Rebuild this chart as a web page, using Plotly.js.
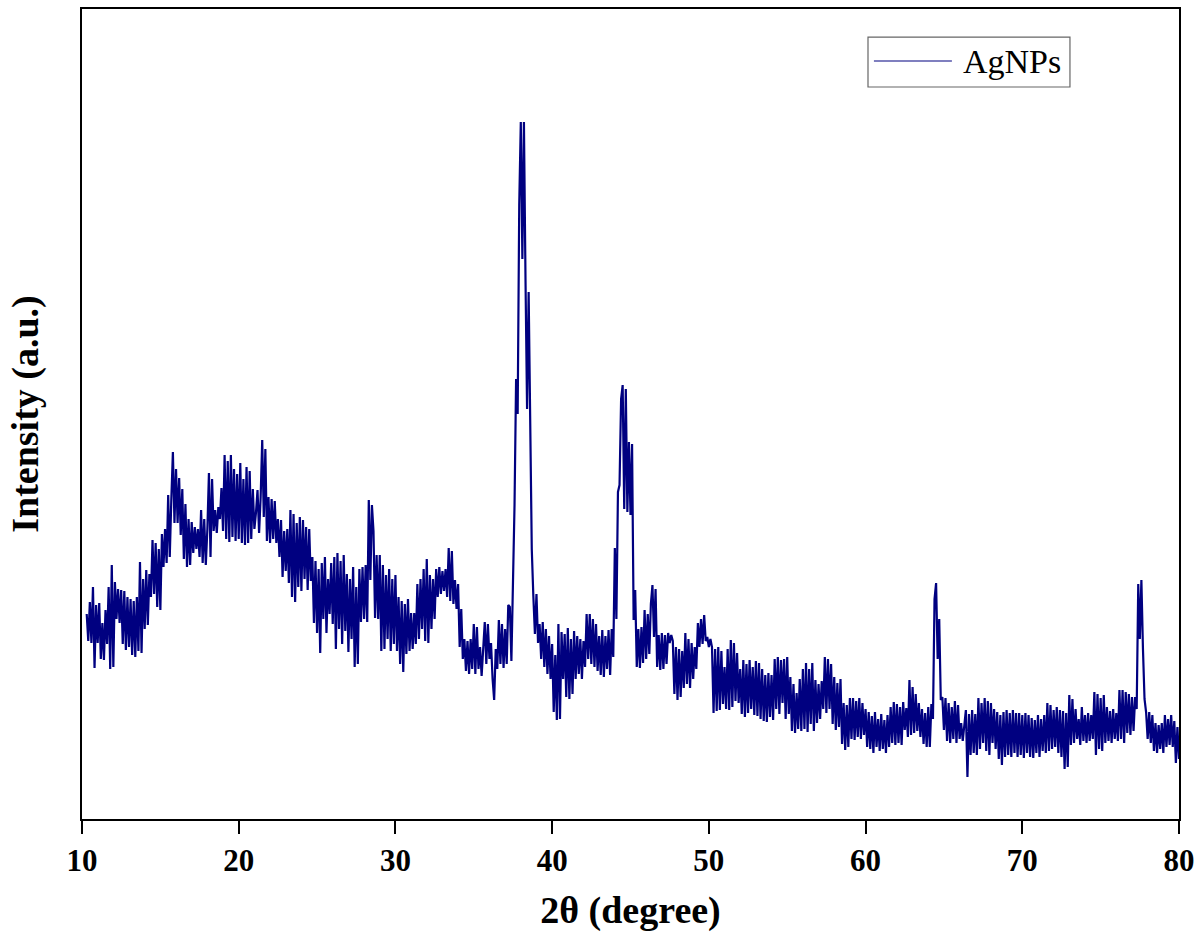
<!DOCTYPE html>
<html>
<head>
<meta charset="utf-8">
<script src="https://cdn.plot.ly/plotly-3.0.1.min.js"></script>
<style>html,body{margin:0;padding:0;background:#fff;}#chart{width:1197px;height:932px;}</style>
</head>
<body>
<div id="chart"></div>
<script>
// 2θ sampling grid (degrees)
const twoThetaStart = 10.3;
const twoThetaStep = 0.1;

const intensity10to20 = [
  205,178,217,176,232,151,214,176,
  216,160,196,159,209,175,232,150,254,152,
  237,200,230,196,229,175,228,169,222,172,
  220,164,218,162,222,168,257,166,240,190,
  249,194,245,222,279,225,276,212,270,209,
  285,252,290,256,324,262,320,367,296,350,
  296,341,284,330,260,315,252,300,254,297,
  266,292,270,290,262,309,256,300,254,290,
  346,262,340,288,309,286,312,300,331,288,
  364,280,358,277,364,282,350,278,345,280
];
const intensity20to30 = [
  356,276,340,274,352,276,348,280,330,290,
  306,329,286,322,379,302,370,278,322,276,
  320,280,318,276,300,262,299,242,288,248,
  290,236,309,222,305,217,296,232,302,228,
  299,240,292,229,290,238,262,196,258,186,
  250,166,256,200,262,186,240,205,256,195,
  262,170,266,190,258,175,264,188,245,167,
  240,180,252,152,232,155,250,197,252,200,
  254,197,319,239,314,288,201,264,200,264,
  168,254,170,244,180,250,168,240,175,244
];
const intensity30to40 = [
  168,222,155,218,147,215,165,220,168,206,
  170,206,175,235,180,240,190,250,178,260,
  176,244,190,240,200,250,222,252,225,248,
  228,250,222,271,218,268,215,239,210,235,
  172,210,160,180,148,178,145,180,150,195,
  145,192,150,172,143,170,197,155,195,160,
  176,140,119,170,150,199,155,195,151,190,
  155,214,212,158,222,314,440,405,614,697,
  560,697,540,410,527,373,270,223,185,225,
  176,195,160,197,152,190,145,183,140,175
];
const intensity40to50 = [
  107,164,99,195,100,187,140,185,122,191,
  120,180,125,188,140,183,145,180,140,178,
  152,205,160,205,155,200,152,195,148,183,
  144,189,142,183,150,189,144,190,162,271,
  200,327,334,420,434,310,430,307,377,304,
  375,199,229,152,190,151,192,156,209,160,
  205,165,215,234,182,230,152,184,149,186,
  150,184,155,186,176,184,178,125,172,119,
  170,122,168,131,186,135,180,131,176,140,
  172,150,196,172,200,175,204,178,182,172
];
const intensity50to60 = [
  180,172,106,170,108,172,109,168,115,152,
  110,170,109,179,112,176,118,166,116,150,
  105,159,102,155,106,159,110,152,104,158,
  103,156,100,150,98,144,97,146,102,144,
  99,160,110,162,105,159,116,160,100,162,
  105,142,88,135,86,126,90,140,88,150,
  90,156,87,150,95,156,88,139,96,135,
  100,138,110,162,106,160,110,155,95,142,
  89,136,92,140,75,116,69,114,72,121,
  80,121,79,118,82,121,80,116,84,110
];
const intensity60to70 = [
  72,107,70,103,66,107,72,100,68,105,
  70,99,66,104,72,112,76,117,74,115,
  76,112,74,117,89,111,82,139,84,132,
  86,125,88,116,82,110,75,106,72,112,
  72,115,100,220,236,160,200,119,122,89,
  121,78,116,76,112,80,118,76,114,80,
  96,78,94,109,42,105,64,109,66,105,
  64,121,70,116,76,121,68,118,64,116,
  76,110,70,107,60,104,54,107,62,109,
  64,106,62,109,66,106,62,106,64,104
];
const intensity70to80 = [
  61,106,66,104,62,101,61,99,66,104,
  62,100,68,104,66,116,68,114,70,109,
  72,112,66,109,62,108,50,106,52,124,
  74,120,76,110,80,100,74,112,78,104,
  76,106,78,104,80,127,64,125,70,121,
  68,124,76,112,78,108,76,110,80,106,
  78,129,80,129,76,127,86,125,84,122,
  88,122,110,235,180,239,170,120,107,80,
  107,76,104,68,96,66,94,70,96,66,
  104,72,100,74,104,72,98,56,92,60
];

const seriesName = 'AgNPs';
const xTickVals = [10, 20, 30, 40, 50, 60, 70, 80];
const xTickText = ['10', '20', '30', '40', '50', '60', '70', '80'];

const intensity = [].concat(intensity10to20, intensity20to30, intensity30to40,
  intensity40to50, intensity50to60, intensity60to70, intensity70to80);
const twoTheta = intensity.map((_, i) => +(twoThetaStart + i * twoThetaStep).toFixed(2));

const FONT = '"Liberation Serif", "Times New Roman", serif';
const LINE_COLOR = '#000080';

const trace = {
  x: twoTheta,
  y: intensity,
  type: 'scatter',
  mode: 'lines',
  name: seriesName,
  line: {color: LINE_COLOR, width: 2.2},
  showlegend: false
};

const layout = {
  width: 1197,
  height: 932,
  margin: {l: 82, r: 18, t: 9, b: 113},
  paper_bgcolor: '#ffffff',
  plot_bgcolor: '#ffffff',
  font: {family: FONT, color: '#000'},
  xaxis: {
    range: [10, 80],
    tickvals: xTickVals,
    ticktext: xTickText,
    ticks: 'outside',
    ticklen: 13,
    tickwidth: 2,
    tickcolor: '#000',
    showline: true,
    linewidth: 2,
    linecolor: '#000',
    mirror: true,
    showgrid: false,
    zeroline: false,
    tickfont: {family: FONT, size: 31, color: '#000', weight: 'bold'},
    title: {text: '<b>2θ (degree)</b>', font: {family: FONT, size: 38, color: '#000'}, standoff: 19}
  },
  yaxis: {
    range: [0, 810],
    showticklabels: false,
    ticks: '',
    showline: true,
    linewidth: 2,
    linecolor: '#000',
    mirror: true,
    showgrid: false,
    zeroline: false,
    title: {text: '<b>Intensity (a.u.)</b>', font: {family: FONT, size: 38, color: '#000'}, standoff: 30}
  },
  shapes: [
    {type: 'rect', xref: 'paper', yref: 'paper', x0: 0.7165, x1: 0.9006, y0: 0.9037, y1: 0.9654,
     line: {color: '#666', width: 1.2}, fillcolor: 'rgba(255,255,255,1)'},
    {type: 'line', xref: 'paper', yref: 'paper', x0: 0.7219, x1: 0.7930, y0: 0.9358, y1: 0.9358,
     line: {color: LINE_COLOR, width: 1.2}}
  ],
  annotations: [
    {xref: 'paper', yref: 'paper', x: 0.8012, y: 0.9346, xanchor: 'left', yanchor: 'middle',
     text: seriesName, showarrow: false, font: {family: FONT, size: 34, color: '#000'}}
  ]
};

Plotly.newPlot('chart', [trace], layout, {displayModeBar: false, staticPlot: true});
</script>
</body>
</html>
